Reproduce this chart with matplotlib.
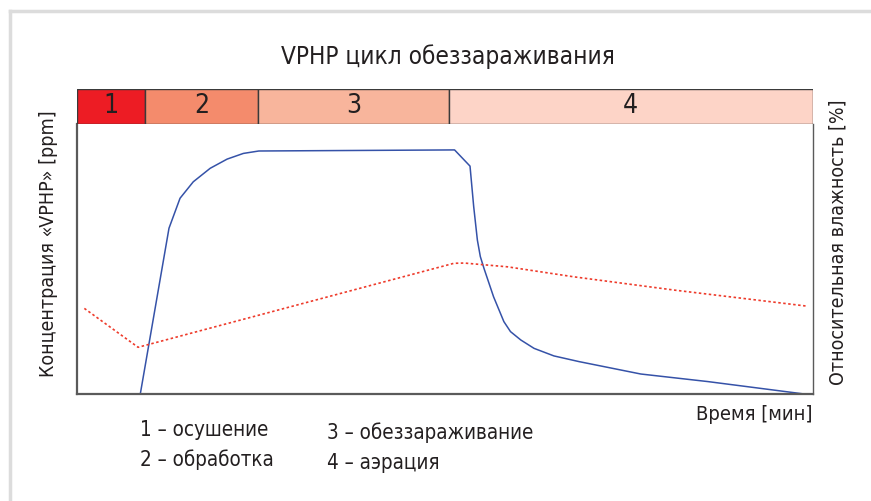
import matplotlib
matplotlib.use('Agg')
import matplotlib.pyplot as plt
from matplotlib.lines import Line2D

plt.rcParams['font.family'] = ['DejaVu Sans']
plt.rcParams['font.stretch'] = 'condensed'

# phase boundaries (time, % of cycle) and labels
phase_edges = [0, 9.3, 24.6, 50.5, 100]
phase_labels = ['1', '2', '3', '4']
phase_colors = ['#ED1C24', '#F48B6C', '#F8B59C', '#FDD4C7']

# VPHP concentration curve
vphp_t = [8.6, 12.5, 14.0, 15.8, 18.1, 20.4, 22.6, 24.7, 51.3, 53.4, 53.9, 54.4,
          54.8, 55.3, 56.6, 58.0, 58.9, 60.3, 62.1, 64.8, 68.2, 76.6, 85.7, 98.8]
vphp_c = [0.0, 61.4, 72.5, 78.6, 83.6, 87.0, 89.1, 90.0, 90.4, 84.4, 69.4, 57.0,
          50.9, 46.5, 36.0, 26.8, 23.1, 20.0, 16.9, 14.1, 12.0, 7.4, 4.6, 0.0]

# relative humidity curve
rh_t = [1.0, 8.3, 51.2, 52.6, 58.5, 67.5, 81.1, 99.0]
rh_v = [31.7, 17.3, 48.4, 48.5, 47.1, 43.4, 38.5, 32.6]

legend_left = ['1 – осушение', '2 – обработка']
legend_right = ['3 – обеззараживание', '4 – аэрация']

fig = plt.figure(figsize=(8.71, 5.01), dpi=100)

# light frame lines
fig.add_artist(Line2D([9.5 / 871, 9.5 / 871], [0, 1 - 11 / 501], color='#dcdcdc', lw=2.5))
fig.add_artist(Line2D([9.5 / 871, 1], [1 - 11 / 501, 1 - 11 / 501], color='#dcdcdc', lw=2.5))

ax = fig.add_axes([0.0884, 0.2136, 0.845, 0.5389])
ax.plot(vphp_t, vphp_c, color='#3552A8', lw=1.1)
ax.set_xlim(0, 100)
ax.set_ylim(0, 100)
ax.set_xticks([])
ax.set_yticks([])
for s in ['left', 'bottom']:
    ax.spines[s].set_color('#5a5a5a')
    ax.spines[s].set_linewidth(1.6)
ax.spines['right'].set_color('#5a5a5a')
ax.spines['right'].set_linewidth(1.0)
ax.spines['top'].set_visible(False)

ax2 = ax.twinx()
ax2.plot(rh_t, rh_v, color='#EE3B2B', lw=1.2, linestyle=(0, (1.5, 1.5)))
ax2.set_ylim(0, 100)
ax2.set_yticks([])
for s in ax2.spines.values():
    s.set_visible(False)

# phase bar
bar = fig.add_axes([0.0884, 0.7525, 0.845, 0.0699])
for i in range(len(phase_labels)):
    left = phase_edges[i]
    width = phase_edges[i + 1] - phase_edges[i]
    bar.barh(0, width, left=left, height=1, color=phase_colors[i],
             edgecolor='#3a3a3a', linewidth=1.0)
    bar.text(left + width / 2, 0, phase_labels[i], ha='center', va='center',
             fontsize=19, color='#231f20')
bar.set_xlim(0, 100)
bar.set_ylim(-0.5, 0.5)
bar.axis('off')

fig.text(448 / 871, 1 - 57 / 501, 'VPHP цикл обеззараживания', ha='center', va='center',
         fontsize=17.5, color='#231f20')
fig.text(48 / 871, 1 - 244 / 501, 'Концентрация «VPHP» [ppm]', rotation=90,
         ha='center', va='center', fontsize=14, color='#231f20')
fig.text(838 / 871, 1 - 242 / 501, 'Относительная влажность [%]', rotation=90,
         ha='center', va='center', fontsize=14, color='#231f20')
fig.text(812 / 871, 1 - 415 / 501, 'Время [мин]', ha='right', va='center',
         fontsize=14.5, color='#231f20')

for i, t in enumerate(legend_left):
    fig.text(140 / 871, 1 - (430 + 30 * i) / 501, t, ha='left', va='center',
             fontsize=14.8, color='#231f20')
for i, t in enumerate(legend_right):
    fig.text(327 / 871, 1 - (433 + 30 * i) / 501, t, ha='left', va='center',
             fontsize=14.8, color='#231f20')

fig.savefig('out.png', dpi=100)
